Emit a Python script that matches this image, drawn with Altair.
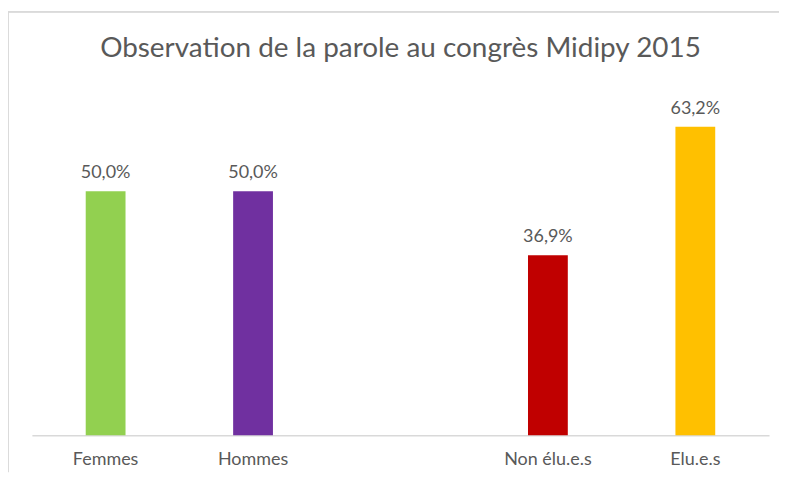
import altair as alt
import pandas as pd

categories = ["Femmes", "Hommes", "Non élu.e.s", "Elu.e.s"]
values = [50.0, 50.0, 36.9, 63.2]
colors = ["#92D050", "#7030A0", "#C00000", "#FFC000"]
axis_order = ["Femmes", "Hommes", " ", "Non élu.e.s", "Elu.e.s"]

df = pd.DataFrame({
    "cat": categories,
    "val": values,
    "label": [f"{v:.1f}%".replace(".", ",") for v in values],
    "color": colors,
})

FONT = "Lato"
GREY = "#595959"

xenc = alt.X("cat:N", scale=alt.Scale(domain=axis_order, paddingInner=0.73, paddingOuter=0.365),
             axis=alt.Axis(title=None, labelAngle=0, ticks=False, domainColor="#d9d9d9",
                           domainWidth=1.5, labelFont=FONT, labelFontSize=18, labelColor=GREY,
                           labelPadding=15))
yenc = alt.Y("val:Q", scale=alt.Scale(domain=[0, 70]), axis=None)

base = alt.Chart(df)
bars = base.mark_bar().encode(x=xenc, y=yenc, color=alt.Color("color:N", scale=None))
text = base.mark_text(baseline="bottom", dy=-9, font=FONT, fontSize=18, color=GREY).encode(
    x=alt.X("cat:N", scale=alt.Scale(domain=axis_order)), y="val:Q", text="label:N")

border_left = alt.Chart(df).mark_rule(color="#d9d9d9").encode(
    x=alt.value(-24), y=alt.value(-82), y2=alt.value(380))
border_top = alt.Chart(df).mark_rule(color="#d9d9d9").encode(
    x=alt.value(-24), x2=alt.value(760), y=alt.value(-82))

chart = alt.layer(border_left, border_top, bars, text).properties(
    width=740, height=343,
    title=alt.TitleParams("Observation de la parole au congrès Midipy 2015", font=FONT,
                          fontSize=28, fontWeight="normal", color=GREY, anchor="middle",
                          offset=-52),
    autosize=alt.AutoSizeParams(type="none"),
    padding={"left": 24, "top": 85, "right": 10, "bottom": 40},
).configure_view(stroke=None)

chart.save("out.html", embed_options={"renderer": "svg", "actions": False})
